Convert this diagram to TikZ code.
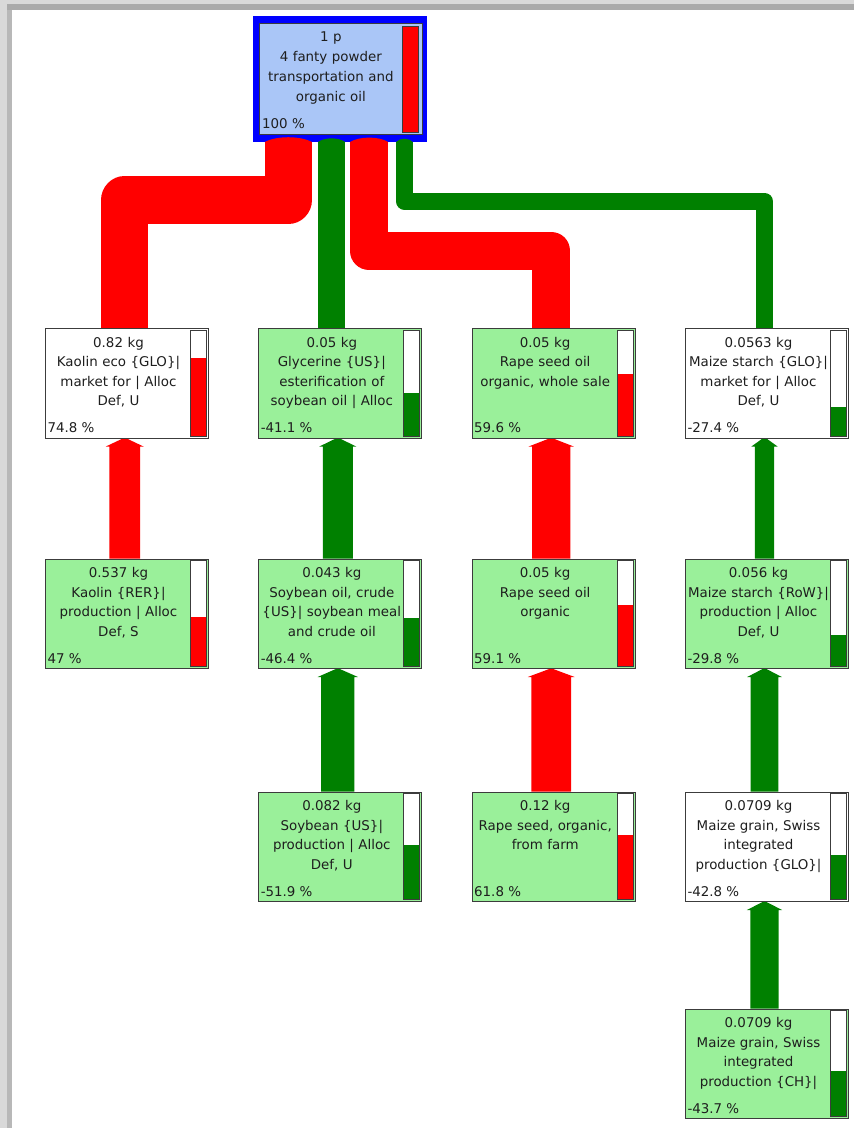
\documentclass[tikz,border=0pt]{standalone}
\usepackage{fontspec}
\setmainfont{DejaVu Sans}
\usetikzlibrary{calc}
\pgfdeclarelayer{back}
\pgfsetlayers{back,main}

\definecolor{flowred}{RGB}{255,0,0}
\definecolor{flowgreen}{RGB}{0,128,0}
\definecolor{boxgreen}{RGB}{154,240,154}
\definecolor{rootblue}{RGB}{0,0,255}
\definecolor{rootfill}{RGB}{170,198,247}
\definecolor{edgegray}{RGB}{60,60,60}
\definecolor{inktext}{RGB}{30,30,30}
\definecolor{framelight}{RGB}{217,217,217}
\definecolor{framedark}{RGB}{170,170,170}
\definecolor{framemid}{RGB}{184,184,184}

\tikzset{
  procbox/.style={draw=edgegray, line width=1pt, minimum width=163pt,
    minimum height=109.5pt, inner sep=0pt, anchor=north west},
  barline/.style={draw=edgegray, line width=1pt},
  proctext/.style={inner sep=0pt, text width=148pt, align=center,
    text=inktext, font=\fontsize{13.4}{19.5}\selectfont},
  pcttext/.style={inner sep=0pt, text=inktext,
    font=\fontsize{13.4}{19.5}\selectfont},
  rootlink/.style={line join=round, line cap=butt},
}

% process box: name, x, top y, fill, bar colour, share, label lines, percent
\newcommand{\procbox}[8]{%
  \node[procbox, fill=#4] (#1) at (#2,#3) {};
  \fill[white] ($(#1.north east)+(-18.6,2.4)$) rectangle ($(#1.south east)+(-2.6,-2.4)$);
  \fill[#5] ($(#1.south east)+(-18.6,-2.4)$) rectangle ($(#1.south east)+(-2.6,{-2.4-104.7*#6})$);
  \draw[barline] ($(#1.north east)+(-18.6,2.4)$) rectangle ($(#1.south east)+(-2.6,-2.4)$);
  \node[proctext, anchor=base] (#1-t) at ($(#1.north west)+(73.5,19.4)$) {#7};
  \node[pcttext, anchor=base west] (#1-p) at ($(#1.south west)+(2.3,-5.6)$) {#8};
}

% upward flow arrow: child, parent, column coordinate, width, colour
\newcommand{\flowarrow}[5]{%
  \fill[#5] ($(#1.north -| #3)+(-#4/2,0)$) -- ($(#2.south -| #3)+(-#4/2,8)$)
    -- ++(-3.5,0) -- ($(#2.south -| #3)+(-2,0)$) -- ($(#2.south -| #3)+(2,0)$)
    -- ($(#2.south -| #3)+(#4/2+3.5,8)$) -- ++(-3.5,0)
    -- ($(#1.north -| #3)+(#4/2,0)$) -- cycle;
}

\begin{document}
\begin{tikzpicture}[x=1pt, y=-1pt]
\useasboundingbox (0,0) rectangle (854,1128);

\begin{pgfonlayer}{back}
  \fill[white] (0,0) rectangle (854,1128);
  % window edge
  \fill[framelight] (0,0) rectangle (854,4);
  \fill[framedark] (0,4) rectangle (854,10);
  \fill[framelight] (0,0) rectangle (7,1128);
  \fill[framemid] (7,10) rectangle (12,1128);
  % blue frame of the root process
  \node[fill=rootblue, inner sep=0pt, minimum width=174.3pt, minimum height=125.7pt,
        anchor=north west] (root) at (252.7,16) {};
\end{pgfonlayer}

% column axes of the flows
\coordinate (cx1) at (124.7,0);
\coordinate (cx2) at (337.8,0);
\coordinate (cx3) at (551.2,0);
\coordinate (cx4) at (764.5,0);
\coordinate (rx1) at (288.3,0);
\coordinate (rx2) at (331.6,0);
\coordinate (rx3) at (369.2,0);
\coordinate (rx4) at (404.4,0);

% root process
\node[draw=edgegray, line width=1pt, fill=rootfill, inner sep=0pt, minimum width=162.4pt,
      minimum height=110.7pt, anchor=north west] (rootbox) at (259.3,23.3) {};
\draw[barline, fill=flowred] (402.3,26) rectangle (418.3,132.7);
\node[proctext, text width=137pt, anchor=base, font=\fontsize{13.4}{20}\selectfont]
  (root-t) at (330.8,41.7) {1 p\\4 fanty powder\\transportation and\\organic oil};
\node[pcttext, anchor=base west] (root-p) at (262,128) {100 \%};

% row 1
\procbox{kaolinGLO}{45}{328}{white}{flowred}{0.748}
  {0.82 kg\\Kaolin eco \{GLO\}|\\market for | Alloc\\Def, U}{74.8 \%}
\procbox{glycerine}{258.3}{328}{boxgreen}{flowgreen}{0.411}
  {0.05 kg\\Glycerine \{US\}|\\esterification of\\soybean oil | Alloc}{-41.1 \%}
\procbox{rapeoil}{471.7}{328}{boxgreen}{flowred}{0.596}
  {0.05 kg\\Rape seed oil\\organic, whole sale}{59.6 \%}
\procbox{maizestarch}{685}{328}{white}{flowgreen}{0.274}
  {0.0563 kg\\Maize starch \{GLO\}|\\market for | Alloc\\Def, U}{-27.4 \%}

% row 2
\procbox{kaolinRER}{45}{558.5}{boxgreen}{flowred}{0.47}
  {0.537 kg\\Kaolin \{RER\}|\\production | Alloc\\Def, S}{47 \%}
\procbox{soycrude}{258.3}{558.5}{boxgreen}{flowgreen}{0.464}
  {0.043 kg\\Soybean oil, crude\\\{US\}| soybean meal\\and crude oil}{-46.4 \%}
\procbox{rapeorg}{471.7}{558.5}{boxgreen}{flowred}{0.591}
  {0.05 kg\\Rape seed oil\\organic}{59.1 \%}
\procbox{maizeRoW}{685}{558.5}{boxgreen}{flowgreen}{0.298}
  {0.056 kg\\Maize starch \{RoW\}|\\production | Alloc\\Def, U}{-29.8 \%}

% row 3
\procbox{soybean}{258.3}{791.5}{boxgreen}{flowgreen}{0.519}
  {0.082 kg\\Soybean \{US\}|\\production | Alloc\\Def, U}{-51.9 \%}
\procbox{rapeseed}{471.7}{791.5}{boxgreen}{flowred}{0.618}
  {0.12 kg\\Rape seed, organic,\\from farm}{61.8 \%}
\procbox{grainGLO}{685}{791.5}{white}{flowgreen}{0.428}
  {0.0709 kg\\Maize grain, Swiss\\integrated\\production \{GLO\}|}{-42.8 \%}

% row 4
\procbox{grainCH}{685}{1008.5}{boxgreen}{flowgreen}{0.437}
  {0.0709 kg\\Maize grain, Swiss\\integrated\\production \{CH\}|}{-43.7 \%}

\begin{pgfonlayer}{back}
  % flows into the root process
  \draw[rootlink, flowred, line width=47.5pt]
    (root.south -| rx1) -- (288.3,200) -- (124.7,200) -- (kaolinGLO.north -| cx1);
  \draw[rootlink, flowgreen, line width=27.5pt]
    (root.south -| rx2) -- (glycerine.north -| rx2);
  \draw[rootlink, flowred, line width=38.5pt]
    (root.south -| rx3) -- (369.2,250.8) -- (551.2,250.8) -- (rapeoil.north -| cx3);
  \draw[rootlink, flowgreen, line width=17pt]
    (root.south -| rx4) -- (404.4,201.2) -- (764.5,201.2) -- (maizestarch.north -| cx4);
  % rounded heads entering the root frame
  \fill[flowred] ($(root.south -| rx1)+(-23.75,0)$) .. controls ($(root.south -| rx1)+(-12,-6.5)$)
    and ($(root.south -| rx1)+(12,-6.5)$) .. ($(root.south -| rx1)+(23.75,0)$) -- cycle;
  \fill[flowgreen] ($(root.south -| rx2)+(-13.75,0)$) .. controls ($(root.south -| rx2)+(-7,-5)$)
    and ($(root.south -| rx2)+(7,-5)$) .. ($(root.south -| rx2)+(13.75,0)$) -- cycle;
  \fill[flowred] ($(root.south -| rx3)+(-19.25,0)$) .. controls ($(root.south -| rx3)+(-10,-6)$)
    and ($(root.south -| rx3)+(10,-6)$) .. ($(root.south -| rx3)+(19.25,0)$) -- cycle;
  \fill[flowgreen] ($(root.south -| rx4)+(-8.5,0)$) .. controls ($(root.south -| rx4)+(-4.5,-4.5)$)
    and ($(root.south -| rx4)+(4.5,-4.5)$) .. ($(root.south -| rx4)+(8.5,0)$) -- cycle;

  % flows between processes
  \flowarrow{kaolinRER}{kaolinGLO}{cx1}{30.7}{flowred}
  \flowarrow{soycrude}{glycerine}{cx2}{29.9}{flowgreen}
  \flowarrow{soybean}{soycrude}{cx2}{33.3}{flowgreen}
  \flowarrow{rapeorg}{rapeoil}{cx3}{38.1}{flowred}
  \flowarrow{rapeseed}{rapeorg}{cx3}{39.9}{flowred}
  \flowarrow{maizeRoW}{maizestarch}{cx4}{19.2}{flowgreen}
  \flowarrow{grainGLO}{maizeRoW}{cx4}{27.6}{flowgreen}
  \flowarrow{grainCH}{grainGLO}{cx4}{28.2}{flowgreen}
\end{pgfonlayer}
\end{tikzpicture}
\end{document}
